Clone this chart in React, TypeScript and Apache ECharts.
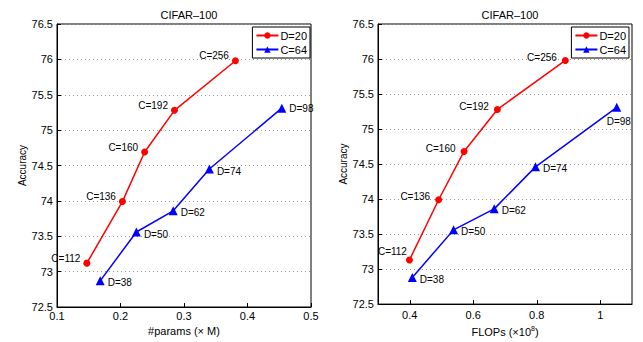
import React, { useEffect, useRef } from "react";
import * as echarts from "echarts";

const paramsD20 = [0.147, 0.203, 0.238, 0.285, 0.381];
const paramsC64 = [0.168, 0.225, 0.283, 0.340, 0.454];
const flopsD20 = [0.399, 0.491, 0.571, 0.676, 0.890];
const flopsC64 = [0.408, 0.538, 0.666, 0.796, 1.052];
const accD20 = [73.12, 73.99, 74.69, 75.28, 75.98];
const accC64 = [72.87, 73.56, 73.86, 74.45, 75.31];
const accD20Right = [73.13, 73.99, 74.68, 75.28, 75.98];
const accC64Right = [72.88, 73.56, 73.86, 74.46, 75.31];
const labelsD20 = ["C=112", "C=136", "C=160", "C=192", "C=256"];
const labelsC64 = ["D=38", "D=50", "D=62", "D=74", "D=98"];
const leftXTicks = [0.1, 0.2, 0.3, 0.4, 0.5];
const rightXTicks = [0.4, 0.6, 0.8, 1];
const seriesNames = ["D=20", "C=64"];
const title = "CIFAR\u2013100";

const FONT = "Liberation Sans, Arial, sans-serif";

export default function App() {
  const ref = useRef<HTMLDivElement>(null);
  useEffect(() => {
    if (!ref.current) return;
    const chart = echarts.init(ref.current, null, { renderer: "svg" });

    const yAxisCommon = (gridIndex: number, nameX: number) => ({
      type: "value",
      gridIndex,
      min: 72.5,
      max: 76.5,
      interval: 0.5,
      axisLine: { show: true, lineStyle: { color: "#000", width: 1 } },
      axisTick: { show: true, inside: true, length: 4, lineStyle: { color: "#000" } },
      axisLabel: { color: "#000", fontSize: 11, fontFamily: FONT, margin: 4 },
      splitLine: { show: true, lineStyle: { color: "#999", type: [1, 3], width: 1 } },
      name: "Accuracy",
      nameLocation: "middle",
      nameGap: nameX,
      nameTextStyle: { color: "#000", fontSize: 10, fontFamily: FONT },
    });

    const c64LeftLabels = labelsC64.map(() => ({ position: "right", offset: [0, 2] }));
    c64LeftLabels[4] = { position: "right", offset: [0, 0] };
    const c64RightLabels = labelsC64.map(() => ({ position: "right", offset: [0, 2] }));
    c64RightLabels[4] = { position: "bottom", offset: [2, 2] };
    const d20RightLabels = labelsD20.map(() => ({ position: "left", offset: [-2, -3] }));
    d20RightLabels[0] = { position: "left", offset: [4, -8] };

    const mk = (
      name: string,
      xs: number[],
      ys: number[],
      labels: string[],
      idx: number,
      color: string,
      symbol: string,
      symbolSize: number,
      labelCfgs: any[]
    ) => ({
      name,
      type: "line",
      xAxisIndex: idx,
      yAxisIndex: idx,
      data: xs.map((x, i) => ({
        value: [x, ys[i]],
        label: {
          show: true,
          formatter: labels[i],
          position: labelCfgs[i].position,
          offset: labelCfgs[i].offset,
          distance: 3,
          color: "#000",
          fontSize: 10,
          fontFamily: FONT,
        },
      })),
      symbol,
      symbolSize,
      itemStyle: { color },
      lineStyle: { color, width: 1.5 },
      clip: false,
    });

    const d20LeftLabels = labelsD20.map(() => ({ position: "left", offset: [0, -5] }));

    const legendCommon = {
      data: seriesNames,
      orient: "vertical",
      top: 27,
      itemWidth: 22,
      itemHeight: 8,
      itemGap: 3,
      padding: [3, 3, 3, 3],
      borderColor: "#000",
      borderWidth: 1,
      backgroundColor: "#fff",
      textStyle: { fontSize: 11, color: "#000", fontFamily: FONT, padding: [0, 0, 0, -3] },
    };

    const option: any = {
      animation: false,
      backgroundColor: "#fff",
      title: [
        { text: title, left: 184, top: 4, textAlign: "center", textStyle: { fontSize: 11, fontWeight: "normal", color: "#000", fontFamily: FONT } },
        { text: title, left: 505, top: 4, textAlign: "center", textStyle: { fontSize: 11, fontWeight: "normal", color: "#000", fontFamily: FONT } },
      ],
      legend: [
        { ...legendCommon, right: 333 },
        { ...legendCommon, right: 14 },
      ],
      grid: [
        { left: 57, right: 332, top: 24, bottom: 35, show: true, borderColor: "#000", borderWidth: 1, backgroundColor: "transparent" },
        { left: 378, right: 11, top: 24, bottom: 36, show: true, borderColor: "#000", borderWidth: 1, backgroundColor: "transparent" },
      ],
      xAxis: [
        {
          type: "value",
          gridIndex: 0,
          min: 0.1,
          max: 0.5,
          interval: 0.1,
          axisLine: { show: true, lineStyle: { color: "#000" } },
          axisTick: { show: true, inside: true, length: 4, customValues: leftXTicks, lineStyle: { color: "#000" } },
          axisLabel: { color: "#000", fontSize: 11, fontFamily: FONT, margin: 3, customValues: leftXTicks },
          splitLine: { show: false },
          name: "#params (\u00d7 M)",
          nameLocation: "middle",
          nameGap: 16,
          nameTextStyle: { color: "#000", fontSize: 11, fontFamily: FONT },
        },
        {
          type: "value",
          gridIndex: 1,
          min: 0.3,
          max: 1.1,
          axisLine: { show: true, lineStyle: { color: "#000" } },
          axisTick: { show: true, inside: true, length: 4, customValues: rightXTicks, lineStyle: { color: "#000" } },
          axisLabel: { color: "#000", fontSize: 11, fontFamily: FONT, margin: 5, customValues: rightXTicks },
          splitLine: { show: false },
          name: "{a|FLOPs (\u00d710}{s|8}{a|)}",
          nameLocation: "middle",
          nameGap: 17,
          nameTextStyle: {
            color: "#000",
            fontFamily: FONT,
            rich: {
              a: { fontSize: 11, color: "#000", fontFamily: FONT },
              s: { fontSize: 7, color: "#000", fontFamily: FONT, verticalAlign: "top", padding: [0, 0, 6, 0] },
            },
          },
        },
      ],
      yAxis: [yAxisCommon(0, 28), yAxisCommon(1, 28)],
      series: [
        mk(seriesNames[0], paramsD20, accD20, labelsD20, 0, "#ff0000", "circle", 7, d20LeftLabels),
        mk(seriesNames[1], paramsC64, accC64, labelsC64, 0, "#0000ff", "triangle", 9, c64LeftLabels),
        mk(seriesNames[0], flopsD20, accD20Right, labelsD20, 1, "#ff0000", "circle", 7, d20RightLabels),
        mk(seriesNames[1], flopsC64, accC64Right, labelsC64, 1, "#0000ff", "triangle", 9, c64RightLabels),
      ],
    };
    chart.setOption(option);
    return () => chart.dispose();
  }, []);
  return <div ref={ref} style={{ width: 643, height: 342, position: "absolute", left: 0, top: 0 }} />;
}
